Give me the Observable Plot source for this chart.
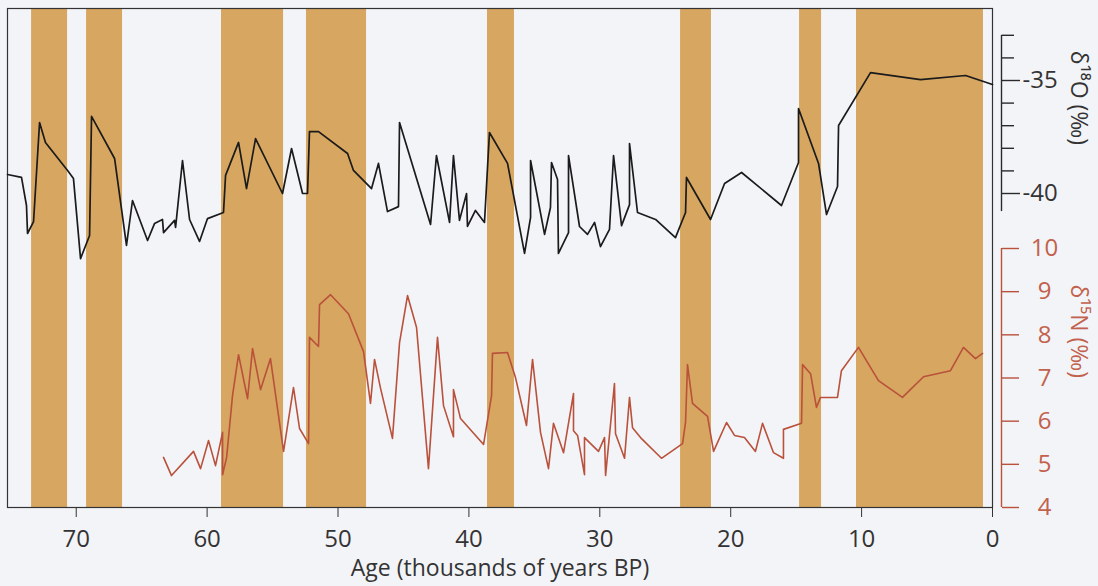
<!DOCTYPE html>
<html><head><meta charset="utf-8">
<script src="https://cdn.jsdelivr.net/npm/d3@7"></script>
<script src="https://cdn.jsdelivr.net/npm/@observablehq/plot@0.6"></script>
<style>
body{margin:0;background:#f3f4f8;}
#chart{position:relative;width:1098px;height:586px;}
#chart svg{position:absolute;left:0;top:0;}
</style></head><body><div id="chart"></div>
<script>
// δ18O (black, upper series)
const o18Age = [75.25,74.18,73.80,73.72,73.26,72.80,72.35,70.66,70.21,69.67,68.98,68.83,67.07,66.16,65.70,64.55,64.02,63.41,63.33,62.49,62.41,61.88,61.34,60.58,59.97,58.75,58.59,57.60,56.99,56.30,54.24,53.55,52.71,52.33,52.18,51.49,49.27,48.82,47.44,46.91,46.22,45.38,45.30,42.93,42.48,41.48,41.18,40.72,40.18,40.11,39.50,38.81,38.43,37.05,35.75,35.29,35.29,34.22,33.77,33.69,33.23,33.16,32.39,32.39,31.55,30.94,30.40,29.95,29.26,28.95,28.34,27.73,27.73,27.12,25.74,24.22,23.45,23.38,21.54,20.47,19.17,16.12,14.82,14.82,13.29,12.68,11.84,11.76,9.32,5.50,2.06,0];
const o18Value = [-39.16,-39.29,-40.53,-41.77,-41.24,-36.86,-37.74,-38.98,-39.34,-42.88,-41.86,-36.59,-38.45,-42.30,-40.31,-42.08,-41.33,-41.15,-41.73,-41.19,-41.50,-38.54,-41.15,-42.12,-41.11,-40.84,-39.20,-37.74,-39.78,-37.57,-40.00,-38.01,-40.00,-40.00,-37.26,-37.26,-38.23,-38.98,-39.78,-38.67,-40.80,-40.58,-36.86,-41.37,-38.32,-41.28,-38.32,-41.19,-40.00,-41.46,-40.75,-41.28,-37.30,-38.67,-42.65,-41.06,-38.54,-41.81,-40.62,-38.63,-39.38,-42.65,-41.73,-38.32,-41.46,-41.81,-41.28,-42.35,-41.59,-38.32,-41.42,-40.49,-37.79,-40.84,-41.15,-41.95,-40.84,-39.29,-41.15,-39.56,-39.07,-40.53,-38.63,-36.24,-38.67,-40.93,-39.69,-36.99,-34.65,-34.96,-34.78,-35.18];
// δ15N (red, lower series)
const n15Age = [63.33,62.72,61.04,60.50,59.89,59.36,58.82,58.82,58.51,58.06,57.60,56.91,56.53,55.92,55.16,54.16,53.40,52.94,52.25,52.18,51.49,51.41,50.57,49.20,48.05,47.52,47.21,46.75,45.84,45.30,44.69,44.00,43.09,42.40,41.94,41.18,41.18,40.64,38.88,38.27,38.20,37.05,36.44,35.60,35.14,34.53,33.92,33.54,32.77,32.01,32.01,31.70,31.17,31.17,30.10,29.64,29.56,28.88,28.80,28.11,27.73,27.50,26.89,25.29,23.68,23.45,23.30,22.92,21.77,21.31,20.32,19.71,18.95,18.11,17.57,16.73,15.97,15.97,14.59,14.51,13.90,13.45,13.14,11.84,11.54,10.24,8.71,6.88,5.27,3.21,2.22,1.30,0.76];
const n15Value = [5.16,4.74,5.30,4.90,5.55,4.97,5.74,4.76,5.16,6.59,7.54,6.52,7.68,6.73,7.45,5.30,6.78,5.83,5.48,7.94,7.73,8.70,8.93,8.49,7.61,6.41,7.43,6.76,5.60,7.82,8.91,8.17,4.90,7.94,6.36,5.64,6.73,6.06,5.46,6.59,7.57,7.59,7.01,5.90,7.43,5.74,4.90,5.95,5.27,6.64,5.78,5.67,4.76,5.62,5.30,5.62,4.74,6.87,5.71,5.14,6.55,5.85,5.62,5.14,5.48,5.97,7.31,6.41,6.11,5.30,5.97,5.67,5.62,5.30,5.95,5.27,5.14,5.81,5.95,7.31,7.10,6.32,6.55,6.55,7.17,7.71,6.94,6.55,7.03,7.17,7.71,7.45,7.57];
// warm (interstadial) bands, ka BP
const bandStart = [73.41,69.21,58.90,52.41,38.58,23.83,14.74,10.39];
const bandEnd   = [70.66,66.46,54.16,47.82,36.52,21.47,13.06,0.69];
// ticks and labels
const ageTicks = [70,60,50,40,30,20,10,0];
const n15Ticks = [4,5,6,7,8,9,10];
const o18MajorTicks = [-35,-40];
const o18MinorTicks = [-33,-34,-36,-37,-38,-39];
const o18AxisExtent = [-33,-40.8];
const xLabel = "Age (thousands of years BP)";
const o18Label = "δ¹⁸O (‰)";
const n15Label = "δ¹⁵N (‰)";

const o18 = o18Age.map((a,i)=>({age:a, value:o18Value[i]}));
const n15 = n15Age.map((a,i)=>({age:a, value:n15Value[i]}));
const bands = bandStart.map((s,i)=>({start:s, end:bandEnd[i]}));

const BG = "#f3f4f8", BAND = "#d7a660", RED = "#b9513b", REDTXT = "#c2614c", INK = "#2a2a2a";
const common = {
  width: 1098, height: 586,
  marginTop: 8, marginRight: 106, marginBottom: 79, marginLeft: 7,
  x: {domain: [75.25, 0], axis: null, label: null},
  style: {fontFamily: "'Open Sans', sans-serif", overflow: "visible"}
};

const lower = Plot.plot({
  ...common,
  style: {...common.style, background: BG},
  y: {domain: [4, 10], range: [507, 248], axis: null, label: null},
  marks: [
    Plot.rect(bands, {x1: "start", x2: "end", fill: BAND}),
    Plot.frame({stroke: "#333", strokeWidth: 1.2}),
    Plot.line(n15, {x: "age", y: "value", stroke: RED, strokeWidth: 1.6}),
    Plot.axisX(ageTicks, {anchor: "bottom", tickSize: 10, tickPadding: 12, fontSize: 24, color: "#333", label: null}),
    Plot.text([xLabel], {text: d => d, frameAnchor: "bottom", dy: 68, lineAnchor: "bottom", fontSize: 23, fill: "#333"}),
    Plot.ruleX([0], {y1: d3.min(n15Ticks), y2: d3.max(n15Ticks), dx: 9, stroke: RED, strokeWidth: 1.4}),
    Plot.axisY(n15Ticks, {anchor: "right", dx: 9, tickSize: 17, tickPadding: 26, textAnchor: "middle", fontSize: 24, stroke: RED, fill: REDTXT, strokeWidth: 1.4, label: null}),
    Plot.text([n15Label], {text: d => d, frameAnchor: "right", y: () => d3.mean(d3.extent(n15Ticks)), dx: 86, rotate: 90, fontSize: 23, fill: REDTXT})
  ]
});

const upper = Plot.plot({
  ...common,
  style: {...common.style, background: "transparent"},
  y: {domain: [-35, -40], range: [80, 193], axis: null, label: null},
  marks: [
    Plot.line(o18, {x: "age", y: "value", stroke: "#1b1b1b", strokeWidth: 1.7}),
    Plot.ruleX([0], {y1: o18AxisExtent[0], y2: o18AxisExtent[1], dx: 9, stroke: INK, strokeWidth: 1.4}),
    Plot.axisY(o18MinorTicks, {anchor: "right", dx: 9, tickSize: 12, tickFormat: () => "", stroke: INK, strokeWidth: 1.4, label: null}),
    Plot.axisY(o18MajorTicks, {anchor: "right", dx: 9, tickSize: 18, tickPadding: 3, tickFormat: d => String(d), fontSize: 24, stroke: INK, fill: "#333", strokeWidth: 1.4, label: null}),
    Plot.text([o18Label], {text: d => d, frameAnchor: "right", y: () => d3.mean(o18MajorTicks), dy: 8, dx: 86, rotate: 90, fontSize: 23, fill: "#333"})
  ]
});

const chart = document.getElementById("chart");
chart.appendChild(lower);
chart.appendChild(upper);
</script>
</body></html>
